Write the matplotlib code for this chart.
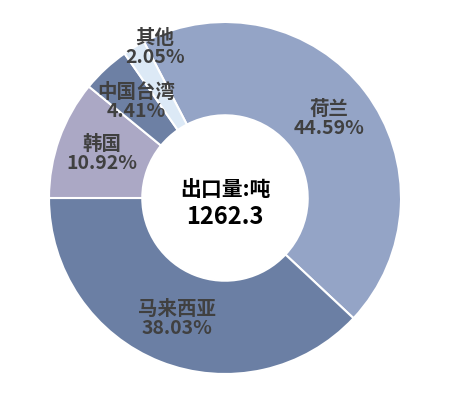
import numpy as np
import matplotlib
matplotlib.use("Agg")
from matplotlib import pyplot as plt

plt.rcParams['font.family'] = ['Noto Sans CJK SC', 'DejaVu Sans']

labels = ["荷兰", "马来西亚", "韩国", "中国台湾", "其他"]
shares = [44.59, 38.03, 10.92, 4.41, 2.05]
colors = ["#94A4C6", "#6B7FA4", "#ABA8C5", "#6D80A4", "#DCE9F6"]
total_text = "出口量:吨"
total_value = "1262.3"

W, H = 453, 398
cx, cy, R = 225, 198, 176

fig = plt.figure(figsize=(W / 100, H / 100), dpi=100)
ax = fig.add_axes([(cx - R) / W, (H - cy - R) / H, 2 * R / W, 2 * R / H])

# 马来西亚 ends exactly at the left horizontal
start = 180 + 3.6 * (shares[0] + shares[1]) - 360
wedges, _ = ax.pie(shares, colors=colors, startangle=start, counterclock=False,
                   radius=1.0,
                   wedgeprops=dict(width=0.53, edgecolor="white", linewidth=1.5))
ax.set_xlim(-1, 1)
ax.set_ylim(-1, 1)
ax.set_aspect("auto")

for i, w in enumerate(wedges):
    mid = (w.theta1 + w.theta2) / 2
    r = 0.74
    if labels[i] == "其他":
        # small slice: label pushed out and nudged right
        r, mid = 0.94, mid - 6
    mid = np.deg2rad(mid)
    ax.text(r * np.cos(mid), r * np.sin(mid), labels[i] + "\n" + f"{shares[i]:.2f}%",
            ha="center", va="center", fontsize=14, fontweight="bold",
            color="#404040", linespacing=1.0)

ax.text(0, 0.05, total_text, ha="center", va="center", fontsize=15,
        fontweight="bold", color="black")
ax.text(0, -0.11, total_value, ha="center", va="center", fontsize=17,
        fontweight="bold", color="black")

fig.savefig("out.png", dpi=100)
